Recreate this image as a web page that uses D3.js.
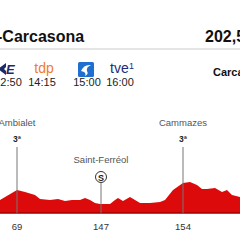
<!DOCTYPE html>
<html><head><meta charset="utf-8">
<script src="https://cdn.jsdelivr.net/npm/d3@7"></script>
<style>html,body{margin:0;padding:0;background:#fff;overflow:hidden}svg{display:block}</style>
</head><body><svg id="c" width="240" height="240"></svg>
<script>
// ---- data ----
const titleText = "-Carcasona";
const distanceText = "202,5 km";
const finishText = "Carcasona";
const broadcasters = ["eurosport", "tdp", "clan", "tve1"];
const broadcastTimes = ["12:50", "14:15", "15:00", "16:00"];
const profileKm = [60, 68.5, 72.5, 77.5, 80, 85, 89, 92.5, 96, 100, 102.5, 105, 107.5, 110, 115, 117.5, 119, 121.5, 125, 127.5, 130, 135, 140, 142.5, 146.5, 151.5, 155, 158.5, 161, 163.5, 167.5, 171, 173.5, 176, 180];
const profileElev = [260, 460, 420, 360, 280, 260, 280, 240, 260, 260, 300, 260, 200, 180, 180, 260, 300, 240, 320, 260, 200, 200, 220, 260, 460, 600, 620, 560, 480, 480, 500, 420, 460, 360, 320];
const markerNames = ["Ambialet", "Saint-Ferréol", "Cammazes"];
const markerKm = [68.5, 110.5, 151.5];
const markerType = ["3ª", "S", "3ª"];
const tickLabels = ["69", "147", "154"];

// ---- chart ----
const svg = d3.select("#c");
const font = "'Liberation Sans', Arial, sans-serif";
const x = d3.scaleLinear().domain([60, 180]).range([0, 240]);
const y = d3.scaleLinear().domain([0, 1000]).range([213, 163]);

// header
svg.append("text").attr("x", -3).attr("y", 42).text(titleText)
  .attr("font-family", font).attr("font-weight", "bold").attr("font-size", 16).attr("fill", "#111");
svg.append("text").attr("x", 205).attr("y", 42).text(distanceText)
  .attr("font-family", font).attr("font-weight", "bold").attr("font-size", 16).attr("fill", "#111");
svg.append("line").attr("x1", 0).attr("x2", 240).attr("y1", 49).attr("y2", 49)
  .attr("stroke", "#dcdcdc").attr("stroke-width", 1.5);

// broadcasters
const g = svg.append("g").attr("transform", "translate(0,-3)");
g.append("path").attr("d", "M-2,72 L6,66 L6,70 L4,72 L6,74 L6,78 Z").attr("fill", "#1b2a6b");
g.append("text").attr("x", 6).attr("y", 77).text("E").attr("font-family", font).attr("font-weight", "bold")
  .attr("font-style", "italic").attr("font-size", 13).attr("fill", "#1b2a6b");
g.append("text").attr("x", 44).attr("y", 76).attr("text-anchor", "middle").text("tdp")
  .attr("font-family", font).attr("font-size", 14).attr("fill", "#f07b2c");
g.append("rect").attr("x", 78).attr("y", 65).attr("width", 16).attr("height", 15).attr("rx", 1.5).attr("fill", "#1f6fd1");
g.append("path").attr("d", "M81,74 Q84,67 91,68 Q86,70 87,74 Q89,77 85,79 Q87,75 81,74 Z").attr("fill", "#fff");
g.append("text").attr("x", 110).attr("y", 76).text("tve")
  .attr("font-family", font).attr("font-size", 14).attr("fill", "#1c2c7c");
g.append("text").attr("x", 129).attr("y", 72).text("1")
  .attr("font-family", font).attr("font-size", 9).attr("fill", "#1c2c7c");
const timeX = [8, 42, 87, 120];
broadcastTimes.forEach((t, i) => {
  g.append("text").attr("x", timeX[i]).attr("y", 89).attr("text-anchor", "middle").text(t)
    .attr("font-family", font).attr("font-size", 11).attr("fill", "#222");
});
svg.append("text").attr("x", 213).attr("y", 76).text(finishText)
  .attr("font-family", font).attr("font-weight", "bold").attr("font-size", 11).attr("fill", "#111");

// profile
const pts = profileKm.map((k, i) => [k, profileElev[i]]);
const area = d3.area().x(d => x(d[0])).y0(y(0)).y1(d => y(d[1])).curve(d3.curveLinear);
svg.append("path").datum(pts).attr("d", area).attr("fill", "#dc0a0a");
svg.append("line").attr("x1", 0).attr("x2", 240).attr("y1", y(0)).attr("y2", y(0))
  .attr("stroke", "#9e0000").attr("stroke-width", 1.5);

// markers
markerKm.forEach((k, i) => {
  const mx = x(k);
  if (markerType[i] === "S") {
    svg.append("text").attr("x", mx).attr("y", 163).attr("text-anchor", "middle").text(markerNames[i])
      .attr("font-family", font).attr("font-size", 9.5).attr("fill", "#555");
    svg.append("line").attr("x1", mx).attr("x2", mx).attr("y1", 183).attr("y2", y(0))
      .attr("stroke", "#777").attr("stroke-width", 1);
    svg.append("circle").attr("cx", mx).attr("cy", 177).attr("r", 5.5).attr("fill", "#fff")
      .attr("stroke", "#333").attr("stroke-width", 1);
    svg.append("text").attr("x", mx).attr("y", 180.5).attr("text-anchor", "middle").text("S")
      .attr("font-family", font).attr("font-weight", "bold").attr("font-size", 9).attr("fill", "#222");
  } else {
    svg.append("text").attr("x", mx).attr("y", 126).attr("text-anchor", "middle").text(markerNames[i])
      .attr("font-family", font).attr("font-size", 9.5).attr("fill", "#555");
    svg.append("text").attr("x", mx).attr("y", 142).attr("text-anchor", "middle").text(markerType[i])
      .attr("font-family", font).attr("font-weight", "bold").attr("font-size", 8.5).attr("fill", "#222");
    svg.append("line").attr("x1", mx).attr("x2", mx).attr("y1", 147).attr("y2", y(0))
      .attr("stroke", "#777").attr("stroke-width", 1);
  }
  svg.append("text").attr("x", mx).attr("y", 230).attr("text-anchor", "middle").text(tickLabels[i])
    .attr("font-family", font).attr("font-size", 9.5).attr("fill", "#333");
});
</script></body></html>
